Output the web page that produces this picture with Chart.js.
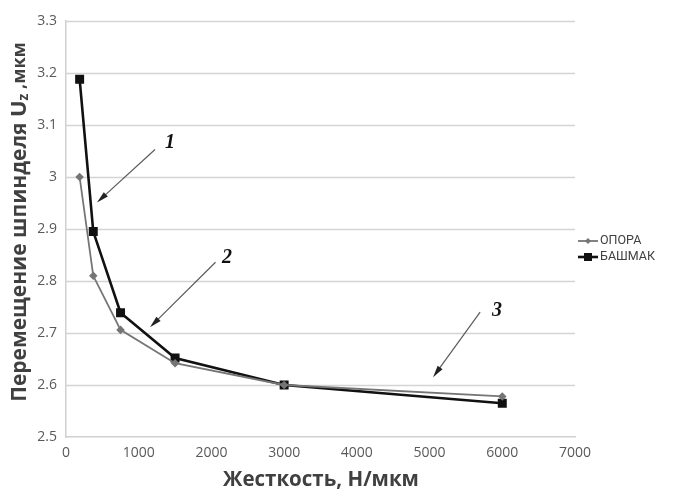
<!DOCTYPE html>
<html>
<head>
<meta charset="utf-8">
<script src="https://cdn.jsdelivr.net/npm/chart.js@4/dist/chart.umd.min.js"></script>
<style>
  html, body { margin: 0; padding: 0; background: #fff; }
  #wrap { width: 675px; height: 491px; position: relative; }
</style>
</head>
<body>
<div id="wrap"><canvas id="c"></canvas></div>
<script>
// stiffness values, N/um
const stiffness = [187.5, 375, 750, 1500, 3000, 6000];
// spindle displacement, um
const oporaValues = [3.0, 2.81, 2.706, 2.642, 2.6, 2.578];
const bashmakValues = [3.188, 2.895, 2.739, 2.652, 2.6, 2.565];
const seriesNames = ['ОПОРА', 'БАШМАК'];
const xTicks = [0, 1000, 2000, 3000, 4000, 5000, 6000, 7000];
const yTicks = [2.5, 2.6, 2.7, 2.8, 2.9, 3.0, 3.1, 3.2, 3.3];

// numbered arrows drawn on the plot, in data units: [label, fromX, fromY, toX, toY, labelX, labelY]
const callouts = [
  ['1', 1224, 3.053, 426, 2.951, 1430, 3.065],
  ['2', 2056, 2.836, 1155, 2.711, 2214, 2.844],
  ['3', 5695, 2.740, 5048, 2.615, 5928, 2.742]
];

const tickFont = { family: 'Open Sans', size: 14 };

function toPoints(ys) {
  return stiffness.map((x, i) => ({ x: x, y: ys[i] }));
}

// horizontal grid lines, drawn under the series
const gridLines = {
  id: 'gridLines',
  beforeDatasetsDraw(chart) {
    const ctx = chart.ctx, a = chart.chartArea, ys = chart.scales.y;
    ctx.save();
    ctx.strokeStyle = '#d4d4d4';
    ctx.lineWidth = 1.5;
    yTicks.forEach(v => {
      if (v === yTicks[0]) return;
      const y = Math.round(ys.getPixelForValue(v)) + 0.5;
      ctx.beginPath();
      ctx.moveTo(a.left, y);
      ctx.lineTo(a.right, y);
      ctx.stroke();
    });
    ctx.restore();
  }
};

// draws arrows, the axis titles and the legend
const extras = {
  id: 'extras',
  afterDraw(chart) {
    const ctx = chart.ctx;
    const xs = chart.scales.x, ys = chart.scales.y;
    ctx.save();

    callouts.forEach(c => {
      const x1 = xs.getPixelForValue(c[1]), y1 = ys.getPixelForValue(c[2]);
      const x2 = xs.getPixelForValue(c[3]), y2 = ys.getPixelForValue(c[4]);
      const ang = Math.atan2(y2 - y1, x2 - x1);
      ctx.strokeStyle = '#5a5a5a';
      ctx.fillStyle = '#222';
      ctx.lineWidth = 1.2;
      ctx.beginPath();
      ctx.moveTo(x1, y1);
      ctx.lineTo(x2 - 8 * Math.cos(ang), y2 - 8 * Math.sin(ang));
      ctx.stroke();
      ctx.beginPath();
      ctx.moveTo(x2, y2);
      ctx.lineTo(x2 - 12 * Math.cos(ang) + 3 * Math.sin(ang), y2 - 12 * Math.sin(ang) - 3 * Math.cos(ang));
      ctx.lineTo(x2 - 12 * Math.cos(ang) - 3 * Math.sin(ang), y2 - 12 * Math.sin(ang) + 3 * Math.cos(ang));
      ctx.closePath();
      ctx.fill();
      ctx.font = 'italic bold 20px "Liberation Serif"';
      ctx.fillStyle = '#111';
      ctx.textAlign = 'center';
      ctx.textBaseline = 'middle';
      ctx.fillText(c[0], xs.getPixelForValue(c[5]), ys.getPixelForValue(c[6]));
    });

    // x title
    ctx.fillStyle = '#404040';
    ctx.font = 'bold 20.5px "Open Sans"';
    ctx.textAlign = 'center';
    ctx.textBaseline = 'middle';
    ctx.fillText('Жесткость, Н/мкм', 321, 480);

    // y title, rotated, with subscript z
    ctx.translate(20, 222);
    ctx.rotate(-Math.PI / 2);
    const parts = [
      ['Перемещение шпинделя ', 'bold 21px "Open Sans"', 0],
      ['U', 'bold 22px "Open Sans"', 0],
      ['z', 'bold 14px "Open Sans"', 4],
      [' ,мкм', 'bold 18px "Open Sans"', 0]
    ];
    let total = 0;
    parts.forEach(p => { ctx.font = p[1]; total += ctx.measureText(p[0]).width; });
    let px = -total / 2;
    ctx.textAlign = 'left';
    parts.forEach(p => {
      ctx.font = p[1];
      ctx.fillText(p[0], px, p[2]);
      px += ctx.measureText(p[0]).width;
    });
    ctx.setTransform(1, 0, 0, 1, 0, 0);

    // legend
    const legendY = [241, 257];
    chart.data.datasets.forEach((ds, i) => {
      const y = legendY[i];
      ctx.strokeStyle = ds.borderColor;
      ctx.lineWidth = ds.borderWidth;
      ctx.beginPath();
      ctx.moveTo(578, y);
      ctx.lineTo(598, y);
      ctx.stroke();
      ctx.fillStyle = ds.borderColor;
      if (i === 0) {
        ctx.beginPath();
        ctx.moveTo(588, y - 3); ctx.lineTo(591, y); ctx.lineTo(588, y + 3); ctx.lineTo(585, y);
        ctx.closePath(); ctx.fill();
      } else {
        ctx.fillRect(584, y - 4, 8, 8);
      }
      ctx.fillStyle = '#404040';
      ctx.font = '12.5px Roboto';
      ctx.textAlign = 'left';
      ctx.textBaseline = 'middle';
      ctx.fillText(ds.label, 600, y);
    });
    ctx.restore();
  }
};

new Chart(document.getElementById('c'), {
  type: 'line',
  data: {
    datasets: [
      {
        label: seriesNames[0],
        data: toPoints(oporaValues),
        borderColor: '#757575',
        backgroundColor: '#757575',
        borderWidth: 1.8,
        pointStyle: 'rectRot',
        pointRadius: 3,
        tension: 0
      },
      {
        label: seriesNames[1],
        data: toPoints(bashmakValues),
        borderColor: '#111111',
        backgroundColor: '#111111',
        borderWidth: 2.6,
        pointStyle: 'rect',
        pointRadius: 4.5,
        tension: 0
      }
    ]
  },
  options: {
    responsive: true,
    maintainAspectRatio: false,
    animation: false,
    layout: { padding: { left: 0, right: 100, top: 21, bottom: 0 } },
    scales: {
      x: {
        type: 'linear',
        min: 0,
        max: 7000,
        afterFit: s => { s.height = 54; },
        afterBuildTicks: s => { s.ticks = xTicks.map(v => ({ value: v })); },
        grid: { display: false, drawTicks: false },
        border: { color: '#d0d0d0', width: 1.5 },
        ticks: { color: '#595959', font: tickFont, padding: 8, maxRotation: 0, callback: v => String(v) }
      },
      y: {
        min: 2.5,
        max: 3.3,
        afterFit: s => { s.width = 66; },
        afterBuildTicks: s => { s.ticks = yTicks.map(v => ({ value: v })); },
        grid: { display: false, drawTicks: false },
        border: { color: '#d0d0d0', width: 1.5 },
        ticks: {
          color: '#595959',
          font: tickFont,
          padding: 9,
          callback: v => String(Number(v.toFixed(1)))
        }
      }
    },
    plugins: {
      legend: { display: false },
      tooltip: { enabled: false }
    }
  },
  plugins: [gridLines, extras]
});
</script>
</body>
</html>
